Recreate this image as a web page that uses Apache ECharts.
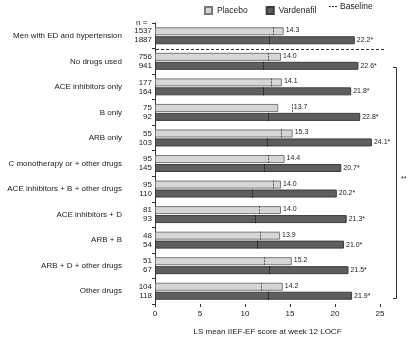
<!DOCTYPE html>
<html>
<head>
<meta charset="utf-8">
<script src="https://cdn.jsdelivr.net/npm/echarts@6/dist/echarts.min.js"></script>
<style>
  html, body { margin: 0; padding: 0; background: #fff; }
  #chart { width: 408px; height: 341px; }
</style>
</head>
<body>
<div id="chart"></div>
<script>
// 数据
var categories = ['Men with ED and hypertension', 'No drugs used', 'ACE inhibitors only', 'B only', 'ARB only',
    'C monotherapy or + other drugs', 'ACE inhibitors + B + other drugs', 'ACE inhibitors + D', 'ARB + B',
    'ARB + D + other drugs', 'Other drugs'];
var nPlacebo = [1537, 756, 177, 75, 55, 95, 95, 81, 48, 51, 104];
var nVard = [1887, 941, 164, 92, 103, 145, 110, 93, 54, 67, 118];
var placebo = [14.3, 14.0, 14.1, 13.7, 15.3, 14.4, 14.0, 14.0, 13.9, 15.2, 14.2];
var vardenafil = [22.2, 22.6, 21.8, 22.8, 24.1, 20.7, 20.2, 21.3, 21.0, 21.5, 21.9];
var basePlacebo = [13.1, 12.6, 12.9, 15.2, 14.0, 12.5, 13.1, 11.6, 11.7, 12.1, 11.8];
var baseVard = [12.7, 12.0, 12.0, 12.6, 12.4, 12.1, 10.8, 11.1, 11.3, 12.7, 12.6];
var xTicks = { min: 0, max: 25, interval: 5 };

(function () {
    var dom = document.getElementById('chart');
    var myChart = echarts.init(dom);
    var font = 'Liberation Sans, Arial, sans-serif';
    var gridLeft = 155, gridRight = 28;
    var pxPerUnit = (408 - gridLeft - gridRight) / (xTicks.max - xTicks.min);

    // 基线超过柱子时，标签往右挪
    var placeboData = placebo.map(function (v, i) {
        var extra = Math.max(0, basePlacebo[i] - v) * pxPerUnit;
        return { value: v, label: { offset: [extra, -1] } };
    });
    var baseData = basePlacebo.map(function (b, i) {
        return [b, i, baseVard[i]];
    });

    var option = {
        textStyle: { fontFamily: font },
        legend: {
            top: 1,
            left: 199,
            icon: 'rect',
            itemWidth: 7,
            itemHeight: 7,
            itemGap: 18,
            data: ['Placebo', 'Vardenafil'],
            textStyle: { fontSize: 8.5, color: '#222', fontFamily: font }
        },
        grid: { left: gridLeft, right: gridRight, top: 23, bottom: 34 },
        xAxis: {
            type: 'value',
            min: xTicks.min,
            max: xTicks.max,
            interval: xTicks.interval,
            name: 'LS mean IIEF-EF score at week 12 LOCF',
            nameLocation: 'middle',
            nameGap: 24,
            nameTextStyle: { fontSize: 8, color: '#222' },
            axisLine: { lineStyle: { color: '#333' } },
            axisTick: { show: true, length: 3, lineStyle: { color: '#333' } },
            axisLabel: { fontSize: 8, color: '#222', margin: 6 },
            splitLine: { show: false }
        },
        yAxis: [{
            type: 'category',
            data: categories,
            inverse: true,
            axisLine: { lineStyle: { color: '#333' } },
            axisTick: { show: true, length: 3, lineStyle: { color: '#333' } },
            axisLabel: { fontSize: 8, color: '#222', margin: 33 }
        }, {
            type: 'category',
            data: categories,
            inverse: true,
            position: 'left',
            axisLine: { show: false },
            axisTick: { show: false },
            axisLabel: {
                fontSize: 8, color: '#222', margin: 3, lineHeight: 9,
                formatter: function (value, index) {
                    return nPlacebo[index] + '\n' + nVard[index];
                }
            }
        }],
        series: [{
            name: 'Placebo',
            type: 'bar',
            data: placeboData,
            barWidth: 8,
            barGap: '12%',
            itemStyle: { color: '#d6d6d6', borderColor: '#7a7a7a', borderWidth: 1 },
            label: {
                show: true, position: 'right', distance: 2, fontSize: 7, color: '#222',
                formatter: function (p) { return p.value.toFixed(1); }
            }
        }, {
            name: 'Vardenafil',
            type: 'bar',
            data: vardenafil,
            barWidth: 8,
            itemStyle: { color: '#5e5e5e', borderColor: '#3c3c3c', borderWidth: 1 },
            label: {
                show: true, position: 'right', distance: 2, fontSize: 7, color: '#222',
                formatter: function (p) { return p.value.toFixed(1) + '*'; }
            }
        }, {
            name: 'Baseline',
            type: 'custom',
            data: baseData,
            encode: { x: 0, y: 1 },
            z: 5,
            renderItem: function (params, api) {
                var i = api.value(1);
                var p = api.coord([api.value(0), i]);
                var v = api.coord([api.value(2), i]);
                var px = Math.round(p[0]) + 0.5, vx = Math.round(v[0]) + 0.5;
                return {
                    type: 'group',
                    children: [{
                        type: 'line',
                        shape: { x1: px, y1: p[1] - 8.5, x2: px, y2: p[1] - 0.5 },
                        style: { stroke: '#555', lineWidth: 1, lineDash: [2, 1] }
                    }, {
                        type: 'line',
                        shape: { x1: vx, y1: v[1] + 0.5, x2: vx, y2: v[1] + 8.5 },
                        style: { stroke: '#1e1e1e', lineWidth: 1, lineDash: [2, 1] }
                    }]
                };
            }
        }],
        graphic: [
            { type: 'line', shape: { x1: 329, y1: 6.5, x2: 338, y2: 6.5 }, style: { stroke: '#333', lineDash: [2, 1] } },
            { type: 'text', left: 340, top: 2, style: { text: 'Baseline', fontSize: 8.5, fill: '#222', fontFamily: font } },
            { type: 'text', left: 136, top: 19, style: { text: 'n =', fontSize: 8, fill: '#222', fontFamily: font } },
            { type: 'line', shape: { x1: 156, y1: 49.5, x2: 384, y2: 49.5 }, style: { stroke: '#333', lineDash: [3, 2] } },
            { type: 'polyline', shape: { points: [[393, 67.5], [396.5, 67.5], [396.5, 298.5], [393, 298.5]] }, style: { stroke: '#333', fill: null } },
            { type: 'text', left: 401, top: 176, style: { text: '**', fontSize: 7, fill: '#222', fontFamily: font } }
        ]
    };

    if (option && typeof option === 'object') {
        myChart.setOption(option);
    }

    window.addEventListener('resize', function () {
        myChart.resize();
    });
})();
</script>
</body>
</html>
